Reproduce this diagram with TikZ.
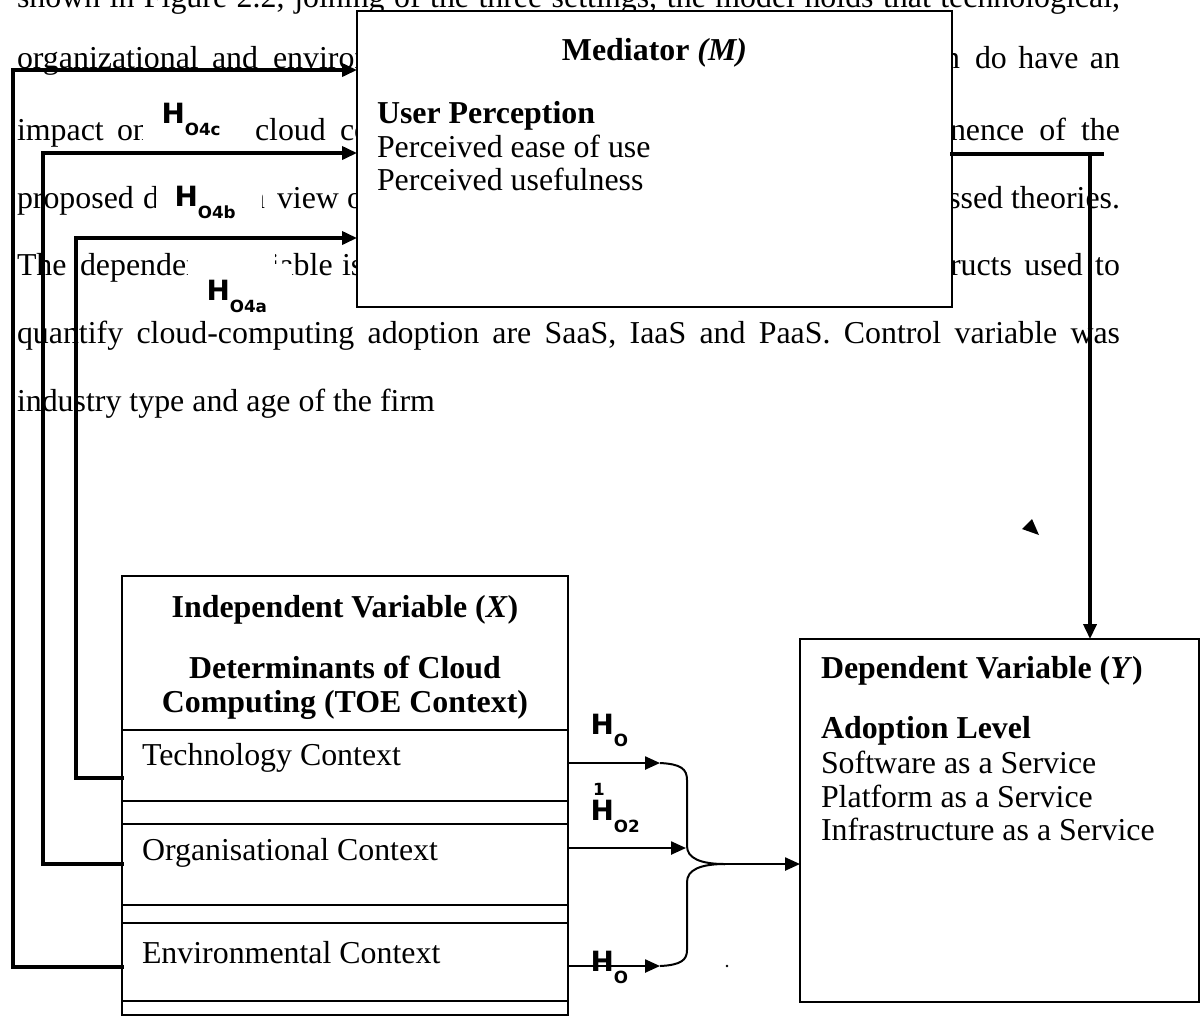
\documentclass[tikz,border=0pt]{standalone}
\usepackage{fontspec}
\setmainfont{Liberation Serif}
\newfontfamily\lblfont{DejaVu Sans}
\usetikzlibrary{arrows.meta}
\newlength\pxu
\setlength\pxu{0.3764pt}
% hypothesis label: big bold H with a lowered small subscript
\newcommand\hyp[2]{{\lblfont\bfseries\fontsize{10.5}{12}\selectfont #1\raisebox{-4.8pt}{\fontsize{6.3}{7}\selectfont #2}}}
% justified line of a given width (in pixel units)
\newcommand\jline[2]{\makebox[#1\pxu][s]{#2}}

\begin{document}
\begin{tikzpicture}[x=0.3764pt, y=-0.3764pt,
  every node/.style={inner sep=0pt, outer sep=0pt, font=\fontsize{12}{14}\selectfont},
  txt/.style={anchor=base west},
  ctr/.style={anchor=base},
  frame/.style={draw, line width=0.75pt, fill=white},
  conn/.style={line width=1.25pt, line cap=rect},
  thinconn/.style={line width=0.75pt},
  tip/.style={-{Triangle[length=5.6pt, width=4.9pt]}}
]
\useasboundingbox (0,0) rectangle (1203,1016);
\clip (0,0) rectangle (1203,1016);

% ---------- running paragraph behind the figure ----------
\node[txt] (p1) at (17,7) {\jline{1103}{shown in Figure 2.2, joining of the three settings, the model holds that technological,}};

\node[txt] (p2a) at (17,68) {organizational};
\node[txt] (p2b) at (212,68) {and};
\node[txt] (p2c) at (273,68) {environ};
\node[txt] (p2d) at (944,68) {n};
\node[txt] (p2e) at (975,68) {\jline{145}{do have an}};

\node[txt] (p3a) at (17,140) {impact};
\node[txt] (p3b) at (117,140) {on};
\node[txt] (p3c) at (255,140) {cloud};
\node[txt] (p3d) at (340,140) {co};
\node[txt] (p3e) at (950,140) {\jline{170}{nence of the}};

\node[txt] (p4a) at (17,208) {proposed};
\node[txt] (p4b) at (143,208) {d};
\node[txt] (p4c) at (249,208) {n};
\node[txt] (p4d) at (277,208) {view};
\node[txt] (p4e) at (347,208) {of};
\node[anchor=base east] (p4f) at (1120,208) {ssed theories.};

\node[txt] (p5a) at (17,275) {The};
\node[txt] (p5b) at (80,275) {dependent};
\node[txt] (p5c) at (230,275) {variable};
\node[txt] (p5d) at (342,275) {is};
\node[txt] (p5e) at (950,275) {\jline{170}{ructs used to}};

\node[txt] (p6) at (17,343) {\jline{1103}{quantify cloud-computing adoption are SaaS, IaaS and PaaS. Control variable was}};
\node[txt] (p7) at (17,411) {industry type and age of the firm};

% ---------- mediator box ----------
\node[frame, minimum width=595\pxu, minimum height=296\pxu] (med) at (654.5,159) {};
\node[ctr] (medT) at (654.5,60) {\textbf{Mediator \textit{(M)}}};
\node[txt] (med1) at (377,123) {\textbf{User Perception}};
\node[txt] (med2) at (377,157) {Perceived ease of use};
\node[txt] (med3) at (377,190) {Perceived usefulness};

% ---------- hypothesis labels on the left ----------
\fill[white] (143,96) rectangle (252,148);
\fill[white] (156,178) rectangle (262,228);
\fill[white] (188,252) rectangle (275,316);
\fill[white] (275,264) rectangle (292,316);
\node[txt] (h4c) at (161.5,123) {\hyp{H}{O4c}};
\node[txt] (h4b) at (174.5,206) {\hyp{H}{O4b}};
\node[txt] (h4a) at (206.5,300) {\hyp{H}{O4a}};

% ---------- independent variable box ----------
\node[frame, minimum width=446\pxu, minimum height=439\pxu] (ind) at (345,795.5) {};
\foreach \yy in {730,801,824,905,923,1001}
  \draw[line width=0.75pt] (ind.west |- 0,\yy) -- (ind.east |- 0,\yy);
\node[ctr] (indT) at (345,617) {\textbf{Independent Variable (\textit{X})}};
\node[ctr] (indA) at (345,678) {\textbf{Determinants of Cloud}};
\node[ctr] (indB) at (345,712) {\textbf{Computing (TOE Context)}};
\node[txt] (tech) at (142,765) {Technology Context};
\node[txt] (org) at (142,860) {Organisational Context};
\node[txt] (env) at (142,963) {Environmental Context};

% ---------- dependent variable box ----------
\node[frame, minimum width=399\pxu, minimum height=363\pxu] (dep) at (999.5,820.5) {};
\node[txt] (depT) at (821,678) {\textbf{Dependent Variable (\textit{Y})}};
\node[txt] (dep1) at (821,738) {\textbf{Adoption Level}};
\node[txt] (dep2) at (821,773) {Software as a Service};
\node[txt] (dep3) at (821,807) {Platform as a Service};
\node[txt] (dep4) at (821,840) {Infrastructure as a Service};

% ---------- context -> mediator connectors ----------
\draw[conn, tip] (ind.west |- 0,967) -- (13,967) -- (13,70) -- (med.west |- 0,70);
\draw[conn, tip] (ind.west |- 0,864) -- (43,864) -- (43,153) -- (med.west |- 0,153);
\draw[conn, tip] (ind.west |- 0,778) -- (76,778) -- (76,238) -- (med.west |- 0,238);

% ---------- mediator -> dependent ----------
\coordinate (medEnd) at (1102,154);
\coordinate (drop) at (1090,154);
\draw[conn] (med.east |- 0,154) -- (medEnd);
\draw[conn, tip] (drop) -- (dep.north -| drop);

% ---------- context -> dependent via brace ----------
\coordinate (join) at (725,864);
\draw[thinconn, tip] (ind.east |- 0,763) -- (660,763);
\draw[thinconn, tip] (ind.east |- 0,848) -- (686,848);
\draw[thinconn, tip] (ind.east |- 0,966) -- (660,966);
\draw[thinconn] (660,763) .. controls (681,764) and (687,769) .. (687,780)
  -- (687,846) .. controls (687,858) and (700,864) .. (join);
\draw[thinconn] (660,966) .. controls (681,965) and (687,960) .. (687,950)
  -- (687,882) .. controls (687,870) and (700,864) .. (join);
\draw[thinconn, tip] (join) -- (dep.west |- join);

% ---------- labels on the right-hand arrows ----------
\node[txt] (h1) at (590.5,734) {\hyp{H}{O}};
\node[txt] (h1n) at (593,795) {{\lblfont\bfseries\fontsize{6.3}{7}\selectfont 1}};
\node[txt] (h2) at (590.5,820) {\hyp{H}{O2}};
\node[txt] (h3) at (590.5,971) {\hyp{H}{O}};

% ---------- stray marks ----------
\fill (727,966) circle (1.3);
\fill (1032,519) -- (1022,529) -- (1039,535) -- cycle;
\end{tikzpicture}
\end{document}
